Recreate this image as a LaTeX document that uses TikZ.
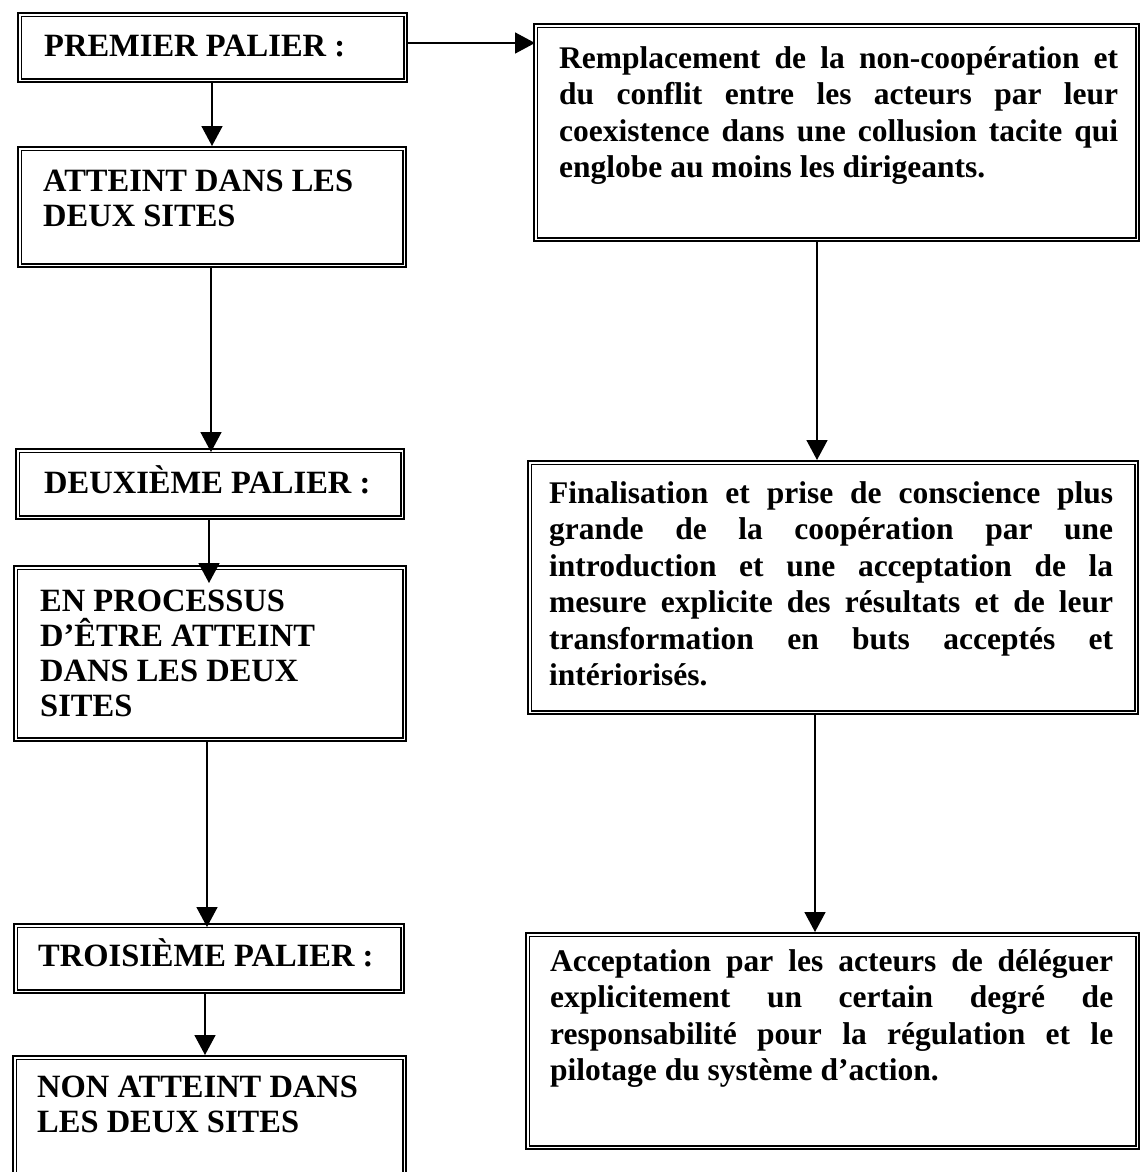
\documentclass[tikz,border=0pt]{standalone}
\usepackage{fontspec}
\setmainfont{Liberation Serif}
\usetikzlibrary{arrows.meta}
\newcommand\bxt[6]{\parbox[c][#2pt][t]{#1pt}{\vspace*{#3pt}\hspace*{#4pt}\parbox[t]{#5pt}{\rule{0pt}{30pt}#6}}}
\tikzset{
  box/.style={draw, line width=2.4pt, anchor=north west, inner sep=0pt},
  innerbox/.style={line width=1.2pt},
  lefttxt/.style={font=\bfseries\fontsize{32.5}{35}\selectfont},
  righttxt/.style={font=\bfseries\fontsize{31.5}{36.5}\selectfont},
  conn/.style={line width=1.6pt, -{Triangle[length=20pt,width=21pt]}},
}
\newcommand\rt{\hyphenpenalty=10000 \exhyphenpenalty=10000 \tolerance=10000 \hbadness=10000 }
\newcommand\lt{\raggedright}
\begin{document}
\begin{tikzpicture}[x=1pt,y=-1pt]
\useasboundingbox (0,0) rectangle (1141,1172);
\clip (0,0) rectangle (1141,1172);
% left column
\node[box,lefttxt] (b1) at (17,12) {\bxt{389}{69}{13}{26}{360}{\lt PREMIER PALIER :}};
\node[box,lefttxt] (b2) at (17,146) {\bxt{388}{120}{14}{25}{360}{\lt ATTEINT DANS LES\\ DEUX SITES}};
\node[box,lefttxt] (b3) at (15,448) {\bxt{388}{70}{14}{28}{355}{\lt DEUXIÈME PALIER :}};
\node[box,lefttxt] (b4) at (13,565) {\bxt{392}{175}{15}{26}{360}{\lt EN PROCESSUS\\ D’ÊTRE ATTEINT\\ DANS LES DEUX\\ SITES}};
\node[box,lefttxt] (b5) at (13,923) {\bxt{390}{69}{12}{24}{360}{\lt TROISIÈME PALIER :}};
\node[box,lefttxt] (b6) at (12,1055) {\bxt{393}{125}{11}{24}{360}{\lt NON ATTEINT DANS\\ LES DEUX SITES}};
% right column
\node[box,righttxt] (r1) at (533,23) {\bxt{605}{217}{14}{25}{559}{\rt Remplacement de la non-coopération et\linebreak du conflit entre les acteurs par leur\linebreak coexistence dans une collusion tacite qui\linebreak englobe au moins les dirigeants.}};
\node[box,righttxt] (r2) at (527,460) {\bxt{610}{253}{12}{21}{564}{\rt Finalisation et prise de conscience plus\linebreak grande de la coopération par une\linebreak introduction et une acceptation de la\linebreak mesure explicite des résultats et de leur\linebreak transformation en buts acceptés et\linebreak intériorisés.}};
\node[box,righttxt] (r3) at (525,932) {\bxt{613}{216}{8}{24}{563}{\rt Acceptation par les acteurs de déléguer\linebreak explicitement un certain degré de\linebreak responsabilité pour la régulation et le\linebreak pilotage du système d’action.}};
% inner lines of the double borders
\foreach \n in {b1,b2,b3,b4,b5,b6,r1,r2,r3}
  \draw[innerbox] ([shift={(4.5pt,-4.5pt)}]\n.north west) rectangle ([shift={(-4.5pt,4.5pt)}]\n.south east);
% connector positions
\coordinate (xa) at (212,0);
\coordinate (xb) at (211,0);
\coordinate (xc) at (209,0);
\coordinate (xd) at (207,0);
\coordinate (xe) at (205,0);
\coordinate (xr) at (817,0);
\coordinate (xs) at (815,0);
\coordinate (ya) at (0,43);
% connectors
\draw[conn] (b1.south -| xa) -- (b2.north -| xa);
\draw[conn, shorten >=-4pt] (b2.south -| xb) -- (b3.north -| xb);
\draw[conn, shorten >=-18pt] (b3.south -| xc) -- (b4.north -| xc);
\draw[conn, shorten >=-4pt] (b4.south -| xd) -- (b5.north -| xd);
\draw[conn] (b5.south -| xe) -- (b6.north -| xe);
\draw[conn, shorten >=-2pt] (b1.east |- ya) -- (r1.west |- ya);
\draw[conn] (r1.south -| xr) -- (r2.north -| xr);
\draw[conn] (r2.south -| xs) -- (r3.north -| xs);
\end{tikzpicture}
\end{document}
